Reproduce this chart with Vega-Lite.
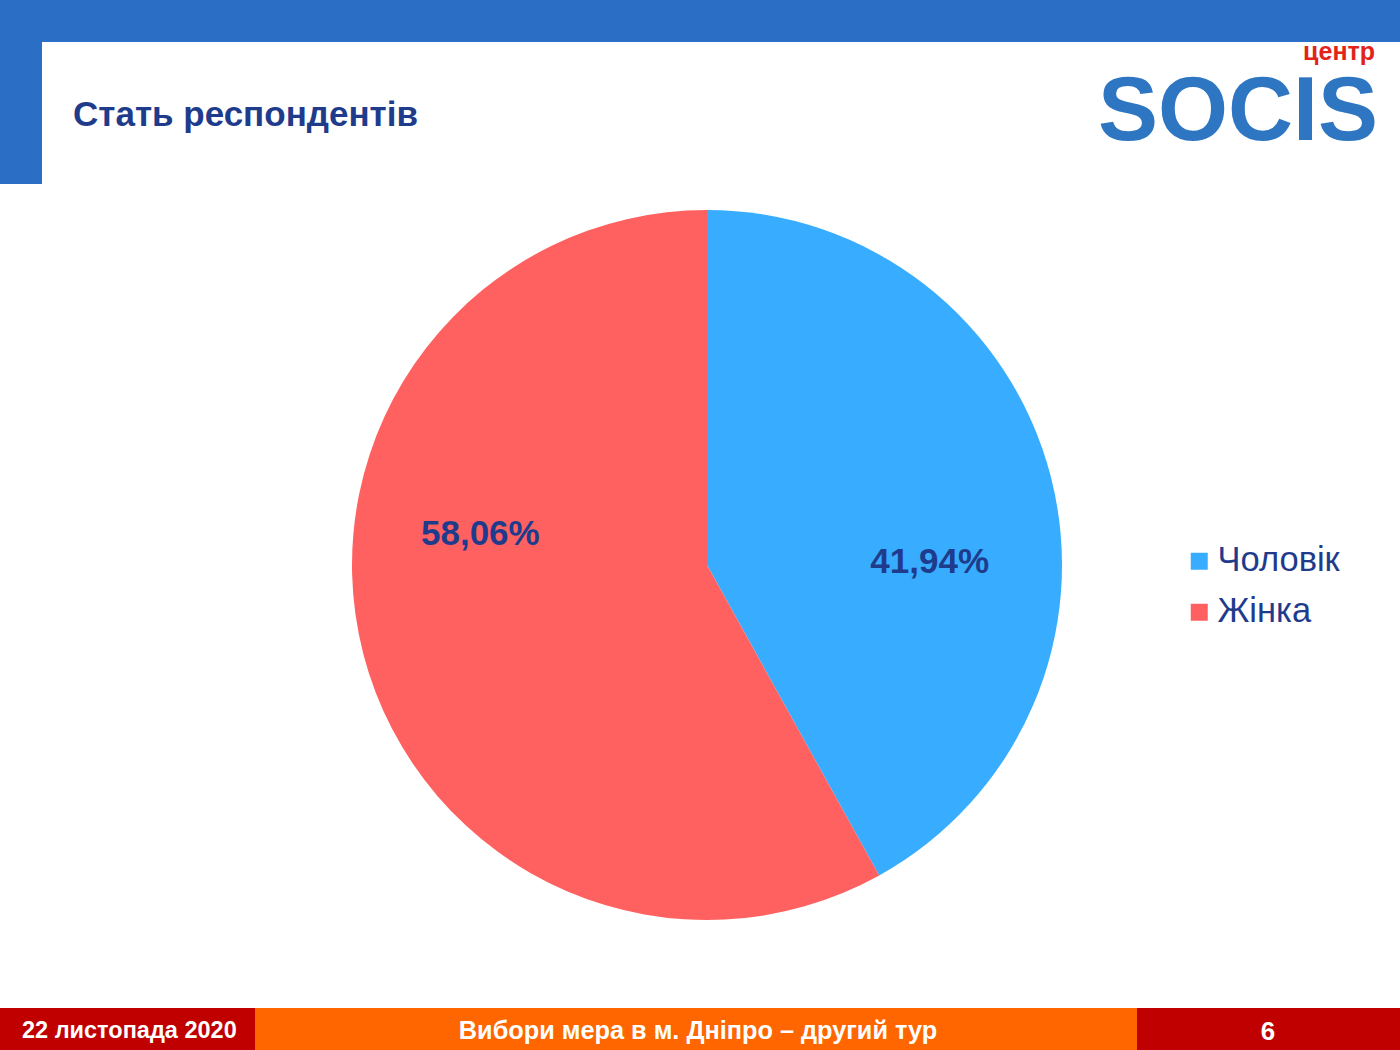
{
  "$schema": "https://vega.github.io/schema/vega-lite/v6.json",
  "width": 1400,
  "height": 1050,
  "autosize": {"type": "fit", "contains": "padding"},
  "padding": 0,
  "background": "#ffffff",
  "config": {"view": {"stroke": null}},
  "datasets": {
    "gender": [
      {"category": "Чоловік", "value": 41.94, "label": "41,94%"},
      {"category": "Жінка", "value": 58.06, "label": "58,06%"}
    ],
    "blueBands": [
      {"x": 0, "x2": 1400, "y": 0, "y2": 42},
      {"x": 0, "x2": 42, "y": 0, "y2": 184}
    ],
    "redBands": [
      {"x": 0, "x2": 255, "y": 1008, "y2": 1050},
      {"x": 1137, "x2": 1400, "y": 1008, "y2": 1050}
    ],
    "orangeBands": [
      {"x": 255, "x2": 1137, "y": 1008, "y2": 1050}
    ],
    "title": [{"x": 73, "y": 126, "text": "Стать респондентів"}],
    "footerLeft": [{"x": 22, "y": 1038, "text": "22 листопада 2020"}],
    "footerMid": [
      {"x": 698, "y": 1039, "text": "Вибори мера в м. Дніпро – другий тур"}
    ],
    "footerRight": [
      {"x": 1268, "y": 1040, "text": "6"}
    ],
    "logoSmall": [{"x": 1375, "y": 60, "text": "центр"}],
    "logoBig": [{"x": 1378, "y": 140, "text": "SOCIS"}]
  },
  "layer": [
    {
      "data": {"name": "blueBands"},
      "mark": {"type": "rect", "color": "#2A6EC6"},
      "encoding": {
        "x": {"field": "x", "type": "quantitative", "scale": {"domain": [0, 1400], "nice": false, "zero": false}, "axis": null},
        "x2": {"field": "x2"},
        "y": {"field": "y", "type": "quantitative", "scale": {"domain": [0, 1050], "nice": false, "zero": false, "reverse": true}, "axis": null},
        "y2": {"field": "y2"}
      }
    },
    {
      "data": {"name": "redBands"},
      "mark": {"type": "rect", "color": "#C00000"},
      "encoding": {
        "x": {"field": "x", "type": "quantitative", "axis": null},
        "x2": {"field": "x2"},
        "y": {"field": "y", "type": "quantitative", "axis": null},
        "y2": {"field": "y2"}
      }
    },
    {
      "data": {"name": "orangeBands"},
      "mark": {"type": "rect", "color": "#FF6600"},
      "encoding": {
        "x": {"field": "x", "type": "quantitative", "axis": null},
        "x2": {"field": "x2"},
        "y": {"field": "y", "type": "quantitative", "axis": null},
        "y2": {"field": "y2"}
      }
    },
    {
      "data": {"name": "title"},
      "mark": {"type": "text", "align": "left", "baseline": "alphabetic", "font": "Liberation Sans", "fontWeight": "bold", "fontSize": 35, "color": "#1F3C8C"},
      "encoding": {
        "x": {"field": "x", "type": "quantitative", "axis": null},
        "y": {"field": "y", "type": "quantitative", "axis": null},
        "text": {"field": "text"}
      }
    },
    {
      "data": {"name": "logoSmall"},
      "mark": {"type": "text", "align": "right", "baseline": "alphabetic", "font": "Liberation Sans", "fontWeight": "bold", "fontSize": 25, "color": "#E2231A"},
      "encoding": {
        "x": {"field": "x", "type": "quantitative", "axis": null},
        "y": {"field": "y", "type": "quantitative", "axis": null},
        "text": {"field": "text"}
      }
    },
    {
      "data": {"name": "logoBig"},
      "mark": {"type": "text", "align": "right", "baseline": "alphabetic", "font": "Liberation Sans", "fontWeight": "bold", "fontSize": 90, "color": "#2F76C2"},
      "encoding": {
        "x": {"field": "x", "type": "quantitative", "axis": null},
        "y": {"field": "y", "type": "quantitative", "axis": null},
        "text": {"field": "text"}
      }
    },
    {
      "data": {"name": "footerLeft"},
      "mark": {"type": "text", "align": "left", "baseline": "alphabetic", "font": "Liberation Sans", "fontWeight": "bold", "fontSize": 23.5, "color": "#ffffff"},
      "encoding": {
        "x": {"field": "x", "type": "quantitative", "axis": null},
        "y": {"field": "y", "type": "quantitative", "axis": null},
        "text": {"field": "text"}
      }
    },
    {
      "data": {"name": "footerMid"},
      "mark": {"type": "text", "align": "center", "baseline": "alphabetic", "font": "Liberation Sans", "fontWeight": "bold", "fontSize": 25.3, "color": "#ffffff"},
      "encoding": {
        "x": {"field": "x", "type": "quantitative", "axis": null},
        "y": {"field": "y", "type": "quantitative", "axis": null},
        "text": {"field": "text"}
      }
    },
    {
      "data": {"name": "footerRight"},
      "mark": {"type": "text", "align": "center", "baseline": "alphabetic", "font": "Liberation Sans", "fontWeight": "bold", "fontSize": 26, "color": "#ffffff"},
      "encoding": {
        "x": {"field": "x", "type": "quantitative", "axis": null},
        "y": {"field": "y", "type": "quantitative", "axis": null},
        "text": {"field": "text"}
      }
    },
    {
      "data": {"name": "gender"},
      "mark": {"type": "arc", "x": 707, "y": 565, "outerRadius": 355, "innerRadius": 0},
      "encoding": {
        "theta": {"field": "value", "type": "quantitative", "stack": true},
        "order": {"field": "value", "type": "quantitative", "sort": "ascending"},
        "color": {
          "field": "category",
          "type": "nominal",
          "scale": {"domain": ["Чоловік", "Жінка"], "range": ["#38ADFF", "#FF6161"]},
          "legend": {
            "orient": "none",
            "legendX": 1182,
            "legendY": 544,
            "title": null,
            "symbolType": "square",
            "symbolSize": 289,
            "symbolStrokeWidth": 0,
            "labelFont": "Liberation Sans",
            "labelFontSize": 34.5,
            "labelColor": "#1F3C8C",
            "labelOffset": 1,
            "labelLimit": 400,
            "rowPadding": 16
          }
        }
      }
    },
    {
      "data": {"name": "gender"},
      "mark": {"type": "text", "x": 707, "y": 565, "radius": 230, "dx": 0, "dy": 55, "font": "Liberation Sans", "fontWeight": "bold", "fontSize": 35, "color": "#1F3C8C", "align": "center", "baseline": "middle"},
      "encoding": {
        "theta": {"field": "value", "type": "quantitative", "stack": true},
        "order": {"field": "value", "type": "quantitative", "sort": "ascending"},
        "text": {"condition": {"test": "datum.category === 'Чоловік'", "field": "label"}, "value": ""}
      }
    },
    {
      "data": {"name": "gender"},
      "mark": {"type": "text", "x": 707, "y": 565, "radius": 230, "dx": -4, "dy": -89, "font": "Liberation Sans", "fontWeight": "bold", "fontSize": 35, "color": "#1F3C8C", "align": "center", "baseline": "middle"},
      "encoding": {
        "theta": {"field": "value", "type": "quantitative", "stack": true},
        "order": {"field": "value", "type": "quantitative", "sort": "ascending"},
        "text": {"condition": {"test": "datum.category === 'Жінка'", "field": "label"}, "value": ""}
      }
    }
  ]
}
